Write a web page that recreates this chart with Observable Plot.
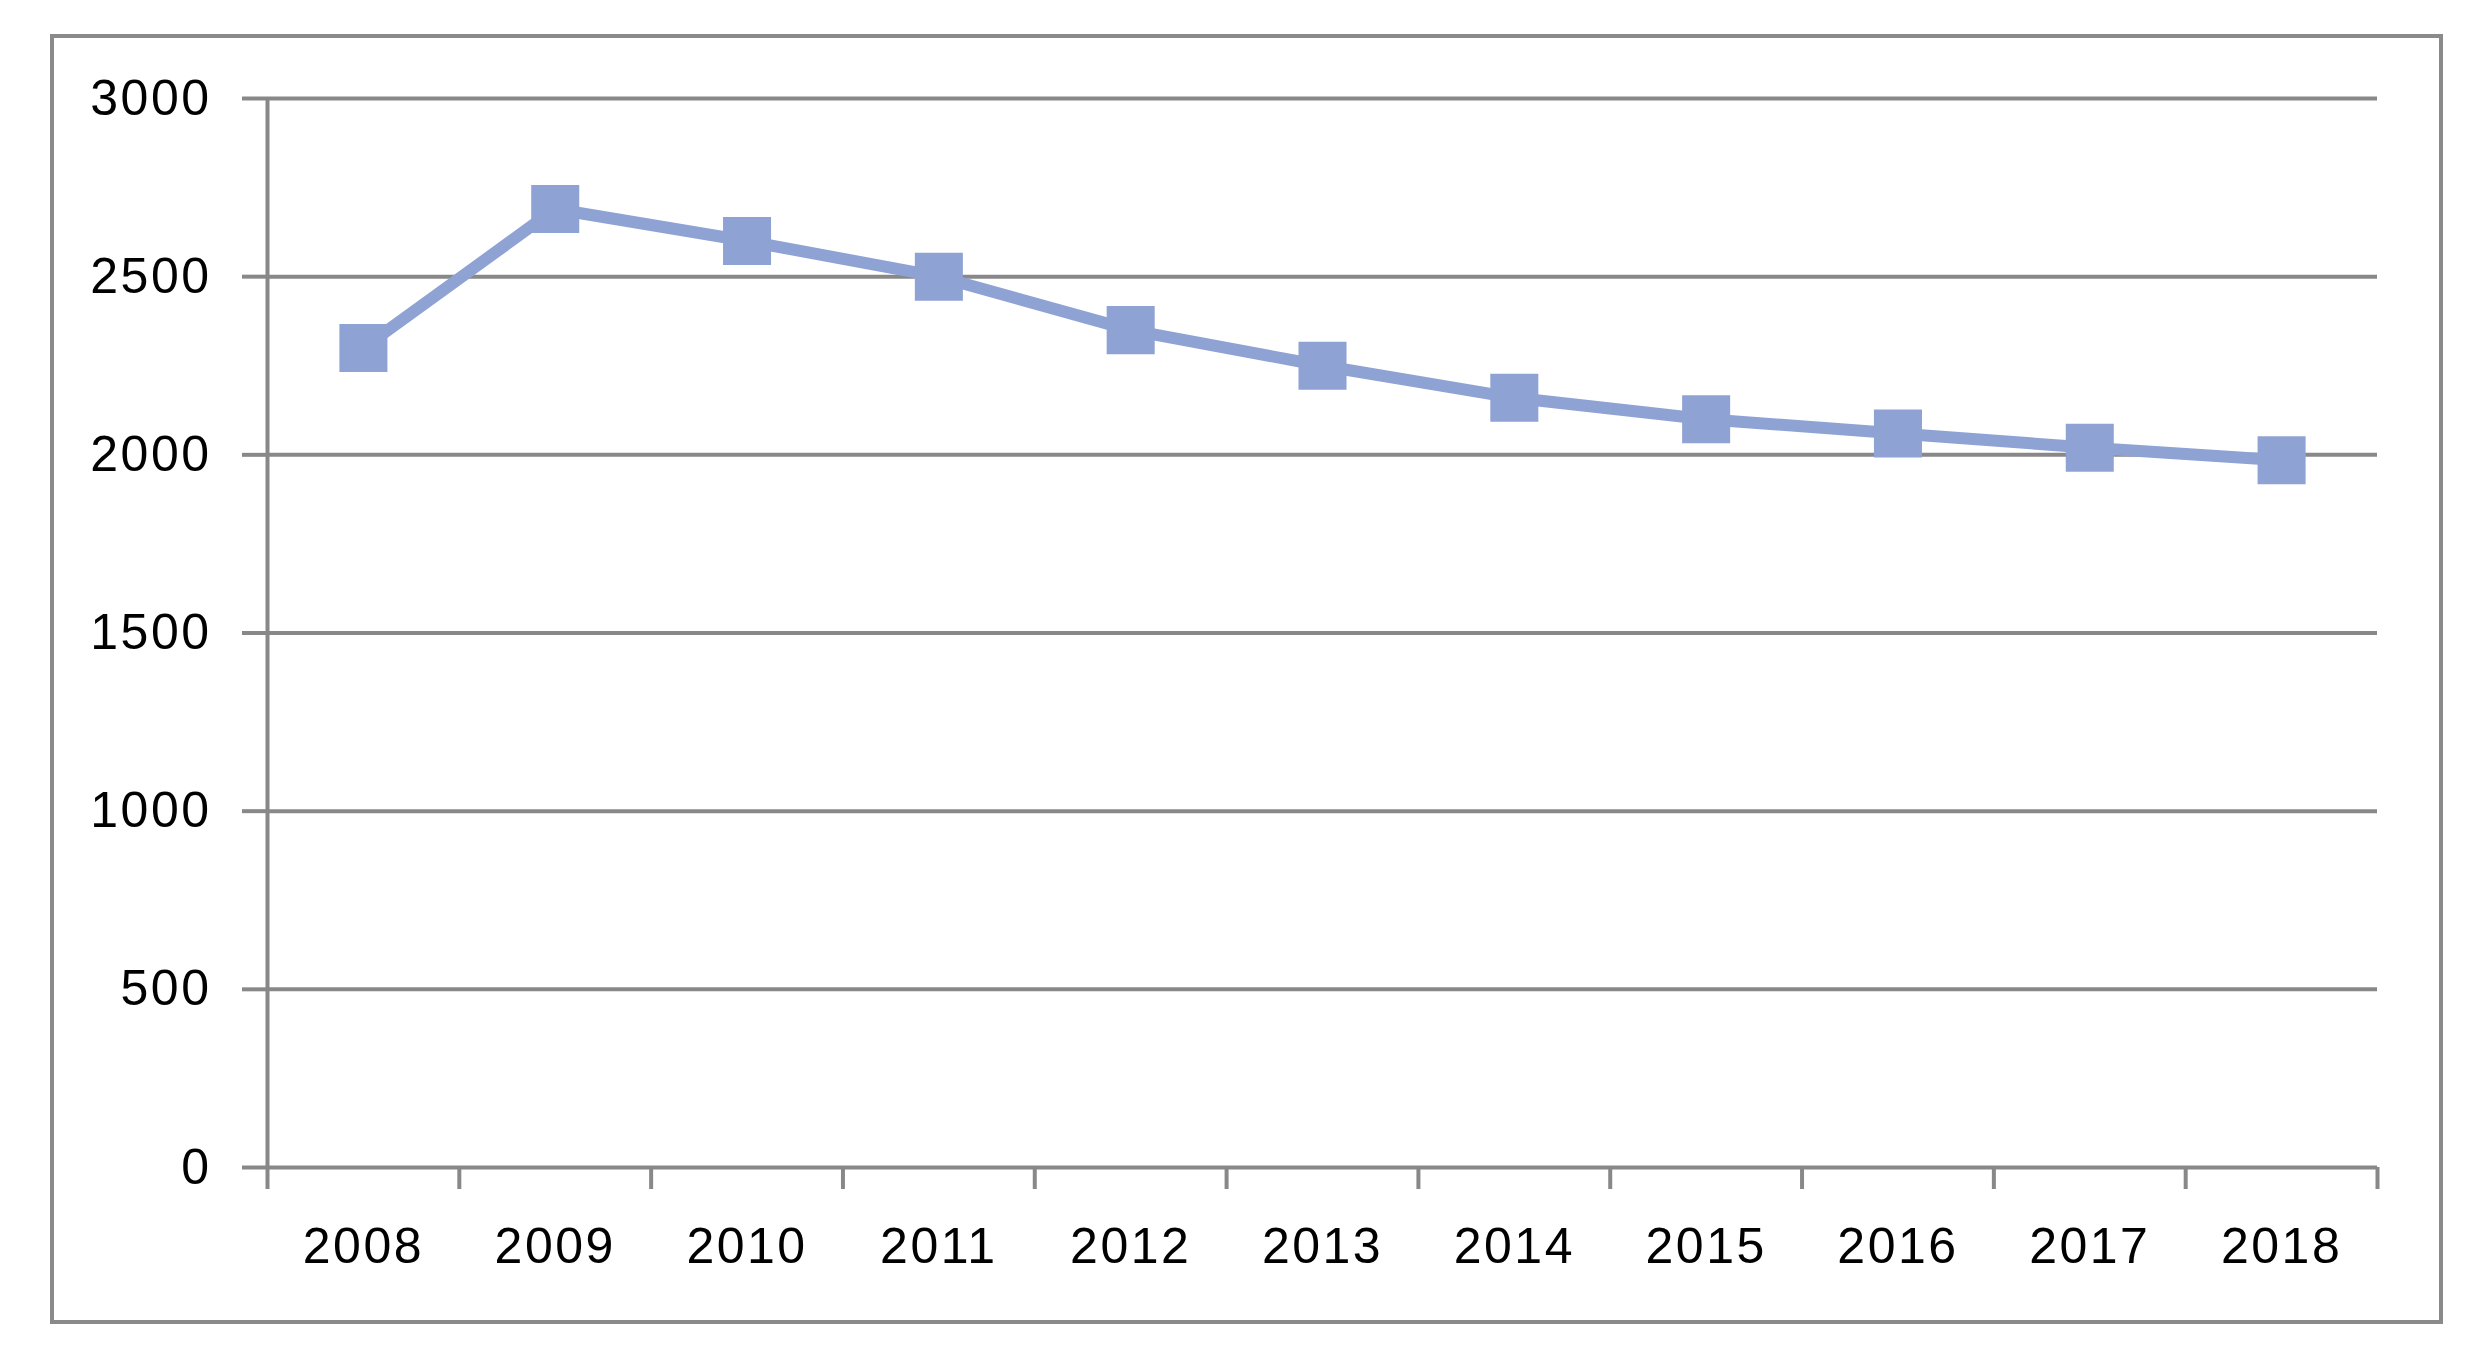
<!DOCTYPE html>
<html>
<head>
<meta charset="utf-8">
<script src="https://cdn.jsdelivr.net/npm/d3@7"></script>
<script src="https://cdn.jsdelivr.net/npm/@observablehq/plot@0.6"></script>
<style>
  html, body { margin: 0; padding: 0; background: #fff; }
  #wrap { position: relative; width: 2484px; height: 1363px; overflow: hidden; }
  #frame { position: absolute; left: 50px; top: 34px; width: 2385px; height: 1282px; border: 4px solid #8a8a8a; box-sizing: content-box; }
  #chart { position: absolute; left: 0; top: 0; }
  #chart text { letter-spacing: 2.5px; }
</style>
</head>
<body>
<div id="wrap"><div id="frame"></div><div id="chart"></div></div>
<script>
const years = [2008, 2009, 2010, 2011, 2012, 2013, 2014, 2015, 2016, 2017, 2018];
const values = [2300, 2690, 2600, 2500, 2350, 2250, 2160, 2100, 2060, 2020, 1985];
const yTicks = [0, 500, 1000, 1500, 2000, 2500, 3000];

const data = years.map((y, i) => ({year: y, value: values[i]}));
const boundaries = [years[0] - 0.5, ...years.map(y => y + 0.5)];

const lineColor = "#8fa2d4";
const axisColor = "#888888";
const font = "'Liberation Sans', Arial, sans-serif";

const chart = Plot.plot({
  width: 2484,
  height: 1363,
  marginLeft: 267,
  marginRight: 107,
  marginTop: 98,
  marginBottom: 196,
  style: {fontFamily: font, fontSize: "50px", color: "#000", background: "transparent"},
  x: {type: "linear", domain: [boundaries[0], boundaries[boundaries.length - 1]]},
  y: {domain: [0, 3000]},
  marks: [
    Plot.gridY(yTicks, {stroke: axisColor, strokeOpacity: 1, strokeWidth: 4}),
    Plot.ruleX([boundaries[0]], {y1: 0, y2: 3000, stroke: axisColor, strokeWidth: 4}),
    Plot.axisY(yTicks, {tickSize: 25, tickPadding: 31, stroke: axisColor, strokeWidth: 4, fill: "#000", tickFormat: d => String(d), label: null}),
    Plot.axisX(boundaries, {tickSize: 22, stroke: axisColor, strokeWidth: 4, tickFormat: () => "", label: null}),
    Plot.axisX(years, {tickSize: 0, tickPadding: 60, fill: "#000", tickFormat: d => String(d), label: null}),
    Plot.line(data, {x: "year", y: "value", stroke: lineColor, strokeWidth: 12}),
    Plot.dot(data, {x: "year", y: "value", symbol: "square", r: 27.1, fill: lineColor, stroke: "none"})
  ]
});
document.getElementById("chart").appendChild(chart);
</script>
</body>
</html>
